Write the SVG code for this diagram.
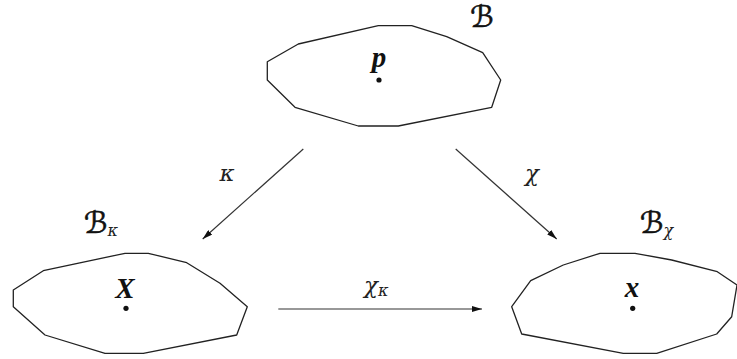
<svg xmlns="http://www.w3.org/2000/svg" width="737" height="359" viewBox="0 0 737 359">
<style>
.body{fill:none;stroke:#222;stroke-width:1.3;stroke-linejoin:round}
.dot{fill:#111}
.cal{font-family:"DejaVu Sans","DejaVu Serif",serif;font-size:30px;fill:#111;stroke:#111;stroke-width:0.6}
.bold{font-family:"Liberation Serif",serif;font-style:italic;font-weight:bold;font-size:29px;fill:#111}
.gr{font-family:"DejaVu Serif","Liberation Serif",serif;font-style:italic;font-size:23px;fill:#222}
.sub{font-family:"DejaVu Serif","Liberation Serif",serif;font-style:italic;font-size:16px;fill:#222;stroke:none}
.edge{stroke:#333;stroke-width:1.2;fill:none;marker-end:url(#ah)}
</style>
<defs>
<marker id="ah" viewBox="0 0 10 6" refX="10" refY="3" markerWidth="10" markerHeight="6" markerUnits="userSpaceOnUse" orient="auto">
<path d="M0,0 L10,3 L0,6 Z" fill="#111"/>
</marker>
</defs>
<rect width="737" height="359" fill="#fff"/>
<g id="node-B">
<polygon class="body" points="267.3,61.7 267.3,80 295,107.3 358.3,126 398.3,126 491.7,107.3 500.7,80 482.7,52.7 446.7,36.7 411.7,25.7 378.3,25.7 298.3,44"/>
<circle class="dot" cx="379" cy="80" r="2.6"/>
<text class="bold" x="379" y="67" text-anchor="middle">p</text>
<text class="cal" x="482" y="27" text-anchor="middle">ℬ</text>
</g>
<g id="node-Bk">
<polygon class="body" points="13.3,290 13.3,306.7 45,335 105,353.3 143.3,353.3 236.7,335 247.3,306.7 220,283.3 186.7,262.7 148.3,253.3 125,253.3 43.3,270.7"/>
<circle class="dot" cx="126" cy="308.3" r="2.6"/>
<text class="bold" x="125" y="298" text-anchor="middle">X</text>
<text class="cal" x="84" y="233">ℬ<tspan class="sub" dy="3">κ</tspan></text>
</g>
<g id="node-Bx">
<polygon class="body" points="511.7,306.7 521.7,334 623.3,353.3 656.7,353.3 716.7,334 731.7,316.7 737,285 717.3,271.7 671.7,260 635,253.3 600,253.3 563.3,265 530.7,280.7"/>
<circle class="dot" cx="632.7" cy="308.3" r="2.6"/>
<text class="bold" x="632" y="297" text-anchor="middle">x</text>
<text class="cal" x="640" y="233">ℬ<tspan class="sub" dy="3">χ</tspan></text>
</g>
<g id="connectors">
<line class="edge" x1="303.3" y1="149" x2="202.7" y2="239"/>
<line class="edge" x1="455.7" y1="149" x2="556.7" y2="239"/>
<line class="edge" x1="278.3" y1="309" x2="482" y2="309"/>
<text class="gr" x="227" y="181" text-anchor="middle">κ</text>
<text class="gr" x="532" y="181" text-anchor="middle">χ</text>
<text class="gr" x="364" y="293">χ<tspan class="sub" dy="3">κ</tspan></text>
</g>
</svg>
